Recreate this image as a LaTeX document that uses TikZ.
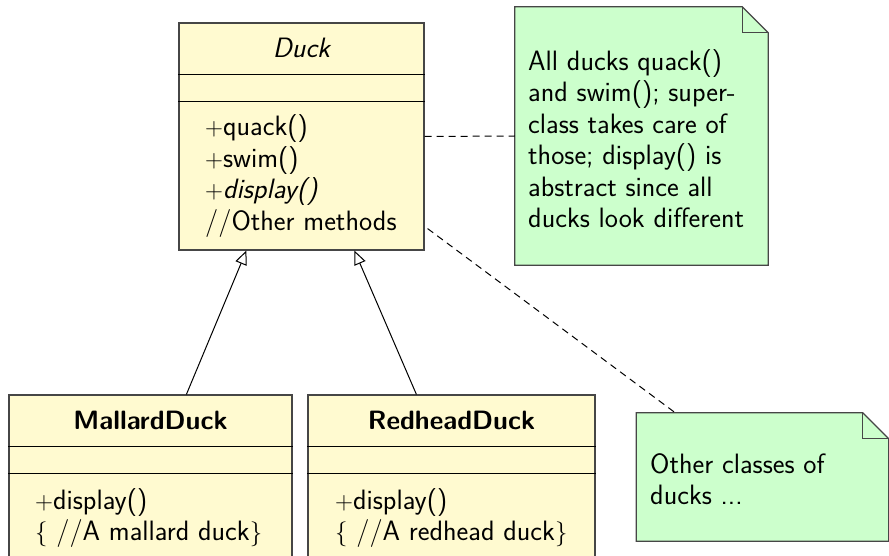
\documentclass[tikz,border=0pt]{standalone}
\usetikzlibrary{arrows.meta}
\definecolor{classfill}{RGB}{255,250,208}
\definecolor{notefill}{RGB}{204,255,204}
\definecolor{edgegray}{RGB}{70,70,70}
\tikzset{
  classbox/.style={draw=edgegray, line width=1.2pt, fill=classfill, inner sep=0pt},
  notebox/.style={inner sep=0pt},
  notepath/.style={draw=edgegray, line width=1.2pt, fill=notefill},
  sepline/.style={draw=black, line width=1pt},
  txt/.style={font=\sffamily\fontsize{28}{31.5}\selectfont, inner sep=0pt},
  lefttxt/.style={txt, align=left, anchor=west},
  inherit/.style={draw=black, line width=1pt, -{Triangle[open, length=14pt, width=12pt, fill=white]}},
  noteline/.style={draw=black, line width=1pt, dash pattern=on 7pt off 5pt},
}
\begin{document}
\begin{tikzpicture}[x=1pt,y=-1pt]
\useasboundingbox (0,0) rectangle (889,556);
% class boxes
\node[classbox, minimum width=245pt, minimum height=227pt] (duck) at (301.5,136.5) {};
\node[classbox, minimum width=283pt, minimum height=180pt] (mallard) at (150.5,485) {};
\node[classbox, minimum width=287pt, minimum height=180pt] (redhead) at (451.5,485) {};
% separators
\draw[sepline] ([yshift=-52pt]duck.north west) -- ([yshift=-52pt]duck.north east);
\draw[sepline] ([yshift=-79pt]duck.north west) -- ([yshift=-79pt]duck.north east);
\draw[sepline] ([yshift=-52pt]mallard.north west) -- ([yshift=-52pt]mallard.north east);
\draw[sepline] ([yshift=-79pt]mallard.north west) -- ([yshift=-79pt]mallard.north east);
\draw[sepline] ([yshift=-52pt]redhead.north west) -- ([yshift=-52pt]redhead.north east);
\draw[sepline] ([yshift=-79pt]redhead.north west) -- ([yshift=-79pt]redhead.north east);
% class texts
\node[txt, font=\sffamily\itshape\fontsize{28}{31.5}\selectfont] (duckname) at (301.5,48) {Duck};
\node[lefttxt] (duckops) at (205,176) {$+$quack()\\ $+$swim()\\ \textit{$+$display()}\\ //Other methods};
\node[txt, font=\sffamily\bfseries\fontsize{26.5}{31.5}\selectfont] (mallardname) at (150.5,420) {MallardDuck};
\node[lefttxt] (mallardops) at (35,518) {$+$display()\\ $\{$ //A mallard duck$\}$};
\node[txt, font=\sffamily\bfseries\fontsize{26.5}{31.5}\selectfont] (redheadname) at (451.5,420) {RedheadDuck};
\node[lefttxt] (redheadops) at (335,518) {$+$display()\\ $\{$ //A redhead duck$\}$};
% notes
\node[notebox, minimum width=253pt, minimum height=258pt] (note1) at (641.5,136) {};
\filldraw[notepath] (note1.north west) -- ([xshift=-26pt]note1.north east) -- ([yshift=-26pt]note1.north east) -- (note1.south east) -- (note1.south west) -- cycle;
\draw[notepath, fill=none] ([xshift=-26pt]note1.north east) -- ([xshift=-26pt,yshift=-26pt]note1.north east) -- ([yshift=-26pt]note1.north east);
\node[lefttxt] (note1text) at (528,138.5) {All ducks quack()\\ and swim(); super-\\ class takes care of\\ those; display() is\\ abstract since all\\ ducks look different};
\node[notebox, minimum width=252pt, minimum height=128pt] (note2) at (762.5,477) {};
\filldraw[notepath] (note2.north west) -- ([xshift=-26pt]note2.north east) -- ([yshift=-26pt]note2.north east) -- (note2.south east) -- (note2.south west) -- cycle;
\draw[notepath, fill=none] ([xshift=-26pt]note2.north east) -- ([xshift=-26pt,yshift=-26pt]note2.north east) -- ([yshift=-26pt]note2.north east);
\node[lefttxt] (note2text) at (650,479) {Other classes of\\ ducks ...};
% connectors
\draw[inherit] ([xshift=178pt]mallard.north west) -- ([xshift=68pt]duck.south west);
\draw[inherit] ([xshift=109pt]redhead.north west) -- ([xshift=176pt]duck.south west);
\draw[noteline] (duck.east) -- (note1.west);
\draw[noteline] ([xshift=3pt,yshift=22pt]duck.south east) -- ([xshift=39pt]note2.north west);
\end{tikzpicture}
\end{document}
